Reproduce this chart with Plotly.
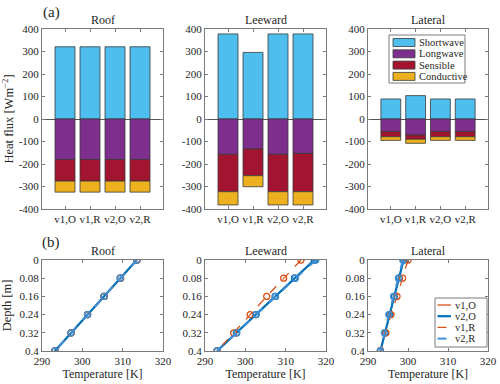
import plotly.graph_objects as go

# --- Data ---
cases = ["v1,O", "v1,R", "v2,O", "v2,R"]
case_pos = [1, 2, 3, 4]
facets = ["Roof", "Leeward", "Lateral"]
components = ["Shortwave", "Longwave", "Sensible", "Conductive"]
flux_ticks = [-400, -300, -200, -100, 0, 100, 200, 300, 400]

# heat flux components [W m-2]
shortwave = {
    "Roof": [321, 321, 321, 321],
    "Leeward": [378, 296, 378, 378],
    "Lateral": [89, 104, 89, 89],
}
longwave = {
    "Roof": [-180, -180, -180, -180],
    "Leeward": [-157, -133, -157, -153],
    "Lateral": [-56, -71, -56, -56],
}
sensible = {
    "Roof": [-96, -96, -96, -96],
    "Leeward": [-166, -119, -166, -170],
    "Lateral": [-23, -19, -23, -23],
}
conductive = {
    "Roof": [-49, -49, -49, -49],
    "Leeward": [-59, -49, -59, -59],
    "Lateral": [-16, -18, -16, -16],
}

# temperature profiles [K]
depth = [0, 0.08, 0.16, 0.24, 0.32, 0.4]
depth_labels = ["0", "0.08", "0.16", "0.24", "0.32", "0.4"]
temp = {
    "Roof": {
        "v1,O": [313.5, 309.4, 305.4, 301.3, 297.2, 293.2],
        "v2,O": [313.5, 309.4, 305.4, 301.3, 297.2, 293.2],
        "v1,R": [313.6, 309.5, 305.4, 301.3, 297.2, 293.2],
        "v2,R": [313.5, 309.4, 305.4, 301.3, 297.2, 293.2],
    },
    "Leeward": {
        "v1,O": [317.1, 312.2, 307.4, 302.6, 297.8, 293.0],
        "v2,O": [317.1, 312.2, 307.4, 302.6, 297.8, 293.0],
        "v1,R": [313.8, 309.5, 305.3, 301.2, 297.1, 293.0],
        "v2,R": [317.5, 312.4, 307.5, 302.7, 297.9, 293.0],
    },
    "Lateral": {
        "v1,O": [298.9, 297.75, 296.6, 295.4, 294.25, 293.1],
        "v2,O": [298.9, 297.75, 296.6, 295.4, 294.25, 293.1],
        "v1,R": [300.0, 298.65, 297.25, 295.75, 294.5, 293.1],
        "v2,R": [298.7, 297.6, 296.4, 295.2, 294.1, 293.1],
    },
}
line_cases = ["v1,O", "v2,O", "v1,R", "v2,R"]

flux_colors = {"Shortwave": "#4DBEEE", "Longwave": "#7E2F8E",
               "Sensible": "#A2142F", "Conductive": "#EDB120"}
line_styles = {
    "v1,O": dict(color="#D95319", width=1.3, dash="solid"),
    "v2,O": dict(color="#0072BD", width=2.2, dash="solid"),
    "v1,R": dict(color="#D95319", width=1.3, dash="dash"),
    "v2,R": dict(color="#3D8FD6", width=2.0, dash="dash"),
}

FONT = "Liberation Serif"
TXT = "#262626"
AX = "#7a7a7a"
W, H = 500, 384
x_px = [(42, 163), (205, 326), (368, 488)]
top_px = (29, 209)
bot_px = (260, 351)


def px(x):
    return x / W


def py(y):
    return 1 - y / H


fig = go.Figure()
layout = {}
annotations = []
shapes = []

axis_common = dict(showline=True, linecolor=AX, linewidth=1, mirror="ticks",
                   ticks="inside", ticklen=3, tickcolor=AX, showgrid=False,
                   automargin=False, tickangle=0, ticklabeloverflow="allow",
                   tickfont=dict(family=FONT, size=11, color=TXT))

bar_data = {"Shortwave": shortwave, "Longwave": longwave,
            "Sensible": sensible, "Conductive": conductive}

for i, name in enumerate(facets):
    xa = f"xaxis{2*i+1}" if i > 0 else "xaxis"
    ya = f"yaxis{2*i+1}" if i > 0 else "yaxis"
    xref = f"x{2*i+1}" if i > 0 else "x"
    yref = f"y{2*i+1}" if i > 0 else "y"

    # (a) stacked bars
    for comp in components:
        fig.add_trace(go.Bar(
            x=case_pos, y=bar_data[comp][name], name=comp, width=0.8,
            marker=dict(color=flux_colors[comp], line=dict(color="#3a3a3a", width=0.8)),
            xaxis=xref, yaxis=yref, showlegend=False,
        ))
    layout[xa] = dict(domain=[px(x_px[i][0]), px(x_px[i][1])], anchor=yref,
                      range=[0.08, 4.92], tickvals=case_pos, ticktext=cases, **axis_common)
    layout[ya] = dict(domain=[py(top_px[1]), py(top_px[0])], anchor=xref, range=[-400, 400],
                      tickvals=flux_ticks, ticktext=[str(v) for v in flux_ticks],
                      zeroline=True, zerolinecolor="#555555", zerolinewidth=1,
                      **axis_common)

    # (b) temperature profiles
    xa2, ya2 = f"xaxis{2*i+2}", f"yaxis{2*i+2}"
    xref2, yref2 = f"x{2*i+2}", f"y{2*i+2}"
    for case in line_cases:
        st = line_styles[case]
        fig.add_trace(go.Scatter(
            x=temp[name][case], y=depth, mode="lines+markers", name=case,
            line=st, marker=dict(symbol="circle-open", size=6, color=st["color"],
                                 line=dict(width=1.3)),
            xaxis=xref2, yaxis=yref2, showlegend=False,
        ))
    layout[xa2] = dict(domain=[px(x_px[i][0]), px(x_px[i][1])], anchor=yref2,
                       range=[290, 320], tickvals=[290, 300, 310, 320], zeroline=False,
                       title=dict(text="Temperature [K]", standoff=3,
                                  font=dict(family=FONT, size=12, color=TXT)),
                       **axis_common)
    layout[ya2] = dict(domain=[py(bot_px[1]), py(bot_px[0])], anchor=xref2,
                       range=[0.4, 0], tickvals=depth, ticktext=depth_labels,
                       zeroline=False, **axis_common)

    cx = px((x_px[i][0] + x_px[i][1]) / 2)
    for ty in (20, 251):
        annotations.append(dict(text=name, x=cx, y=py(ty), xref="paper", yref="paper",
                                showarrow=False, xanchor="center", yanchor="middle",
                                font=dict(family=FONT, size=12, color=TXT)))

layout["yaxis"]["title"] = dict(text="Heat flux [Wm<sup>−2</sup>]", standoff=5,
                                font=dict(family=FONT, size=12.5, color=TXT))
layout["yaxis2"]["title"] = dict(text="Depth [m]", standoff=5,
                                 font=dict(family=FONT, size=12.5, color=TXT))

for lab, ty in (("(a)", 12), ("(b)", 242)):
    annotations.append(dict(text=lab, x=px(51), y=py(ty), xref="paper", yref="paper",
                            showarrow=False, xanchor="center", yanchor="middle",
                            font=dict(family=FONT, size=15, color=TXT)))

# --- legend (a): flux components ---
shapes.append(dict(type="rect", xref="paper", yref="paper", x0=px(389), x1=px(465),
                   y0=py(83), y1=py(35), line=dict(color=AX, width=1), fillcolor="white"))
for k, comp in enumerate(components):
    yc = 42.5 + k * 11.3
    shapes.append(dict(type="rect", xref="paper", yref="paper", x0=px(393), x1=px(415),
                       y0=py(yc + 4), y1=py(yc - 4), fillcolor=flux_colors[comp],
                       line=dict(color="#3a3a3a", width=0.8)))
    annotations.append(dict(text=comp, x=px(416.5), y=py(yc), xref="paper", yref="paper",
                            showarrow=False, xanchor="left", yanchor="middle",
                            font=dict(family=FONT, size=10.5, color=TXT)))

# --- legend (b): model versions ---
shapes.append(dict(type="rect", xref="paper", yref="paper", x0=px(435), x1=px(487),
                   y0=py(347), y1=py(298), line=dict(color=AX, width=1), fillcolor="white"))
for k, case in enumerate(line_cases):
    yc = 305 + k * 11.2
    st = line_styles[case]
    shapes.append(dict(type="line", xref="paper", yref="paper", x0=px(437.5), x1=px(451),
                       y0=py(yc), y1=py(yc),
                       line=dict(color=st["color"], width=st["width"], dash=st["dash"])))
    annotations.append(dict(text=case, x=px(452.5), y=py(yc), xref="paper", yref="paper",
                            showarrow=False, xanchor="left", yanchor="middle",
                            font=dict(family=FONT, size=10.5, color=TXT)))

fig.update_layout(
    width=W, height=H,
    margin=dict(l=0, r=0, t=0, b=0, autoexpand=False),
    paper_bgcolor="white", plot_bgcolor="white",
    barmode="relative",
    showlegend=False,
    font=dict(family=FONT, size=11, color=TXT),
    annotations=annotations,
    shapes=shapes,
    **layout,
)

# page body has a default 8px margin; drop it so the figure sits at the window corner
fig.write_html("out.html", config={"displayModeBar": False},
               post_script="document.body.style.margin='0px';")
